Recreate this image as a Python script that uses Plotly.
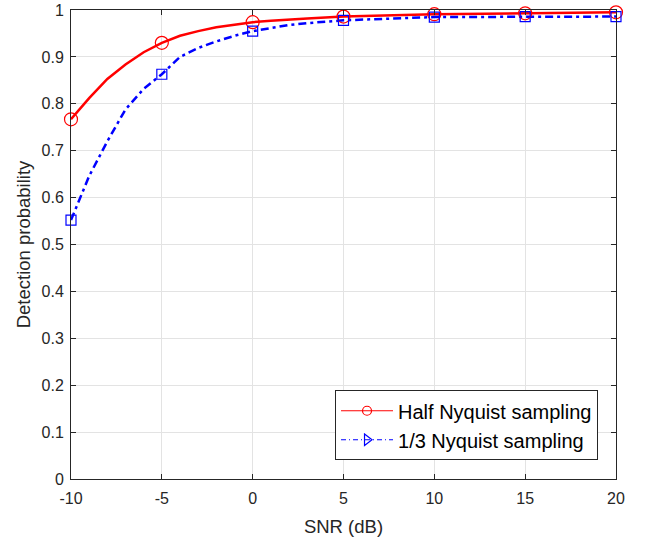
import plotly.graph_objects as go

# SNR (dB) values of the curves
snr = [-10, -9, -8, -7, -6, -5, -4, -3, -2, -1, 0, 1, 2, 3, 4, 5, 10, 15, 20]
half_nyq = [0.767, 0.812, 0.853, 0.884, 0.910, 0.930, 0.945, 0.955, 0.963, 0.969, 0.974,
            0.977, 0.980, 0.982, 0.984, 0.986, 0.991, 0.993, 0.995]
third_nyq = [0.552, 0.646, 0.720, 0.788, 0.832, 0.863, 0.900, 0.919, 0.933, 0.945, 0.955,
             0.962, 0.968, 0.972, 0.975, 0.978, 0.985, 0.986, 0.986]

marker_snr = [-10, -5, 0, 5, 10, 15, 20]
half_marks = [0.767, 0.930, 0.974, 0.986, 0.991, 0.993, 0.995]
third_marks = [0.552, 0.863, 0.955, 0.978, 0.985, 0.986, 0.986]

x_ticks = [-10, -5, 0, 5, 10, 15, 20]
y_ticks = [0, 0.1, 0.2, 0.3, 0.4, 0.5, 0.6, 0.7, 0.8, 0.9, 1]
y_tick_text = ["0", "0.1", "0.2", "0.3", "0.4", "0.5", "0.6", "0.7", "0.8", "0.9", "1"]

RED = "#ff0000"
BLUE = "#0000ff"
DASHDOT = "8px,4px,3px,4px"
FONT = "Liberation Sans, Arial, sans-serif"
INK = "#262626"

fig = go.Figure()
# curves
fig.add_trace(go.Scatter(x=snr, y=half_nyq, mode="lines", line=dict(color=RED, width=2.5),
                         showlegend=False, hoverinfo="skip"))
fig.add_trace(go.Scatter(x=snr, y=third_nyq, mode="lines", line=dict(color=BLUE, width=2.5, dash=DASHDOT),
                         showlegend=False, hoverinfo="skip"))
# markers
fig.add_trace(go.Scatter(x=marker_snr, y=half_marks, mode="markers",
                         marker=dict(symbol="circle-open", size=13, color=RED, line=dict(width=1.2)),
                         showlegend=False, cliponaxis=False))
fig.add_trace(go.Scatter(x=marker_snr, y=third_marks, mode="markers",
                         marker=dict(symbol="square-open", size=10, color=BLUE, line=dict(width=1.2)),
                         showlegend=False, cliponaxis=False))
# legend entries
fig.add_trace(go.Scatter(x=[None], y=[None], mode="lines+markers", name="Half Nyquist sampling",
                         line=dict(color=RED, width=1.2),
                         marker=dict(symbol="circle-open", size=9, color=RED, line=dict(width=1.2))))
fig.add_trace(go.Scatter(x=[None], y=[None], mode="lines+markers", name="1/3 Nyquist sampling",
                         line=dict(color=BLUE, width=1.2, dash="5px,3px,1px,3px"),
                         marker=dict(symbol="triangle-right-open", size=10, color=BLUE, line=dict(width=1.2))))

axis_common = dict(
    showline=True, linecolor=INK, linewidth=1, mirror="ticks",
    ticks="inside", ticklen=5, tickcolor=INK,
    showgrid=True, gridcolor="#e3e3e3", gridwidth=1,
    zeroline=False, automargin=False, ticklabeloverflow="allow",
    tickfont=dict(family=FONT, size=16, color=INK),
    title_font=dict(family=FONT, size=18.5, color=INK),
)

fig.update_layout(
    width=647, height=542,
    margin=dict(l=71, r=31, t=10, b=63),
    paper_bgcolor="white", plot_bgcolor="white",
    xaxis=dict(range=[-10, 20], tickvals=x_ticks, ticktext=[str(v) for v in x_ticks],
               ticklabelstandoff=5,
               title=dict(text="SNR (dB)", standoff=13), **axis_common),
    yaxis=dict(range=[0, 1], tickvals=y_ticks, ticktext=y_tick_text,
               ticklabelstandoff=3,
               title=dict(text="Detection probability", standoff=6), **axis_common),
    legend=dict(x=0.967, y=0.04, xanchor="right", yanchor="bottom",
                bgcolor="white", bordercolor=INK, borderwidth=1,
                font=dict(family=FONT, size=20, color="#000000"),
                itemwidth=52, tracegroupgap=0),
)

fig.write_html("out.html", config={"displayModeBar": False},
               post_script="document.body.style.margin='0';")
